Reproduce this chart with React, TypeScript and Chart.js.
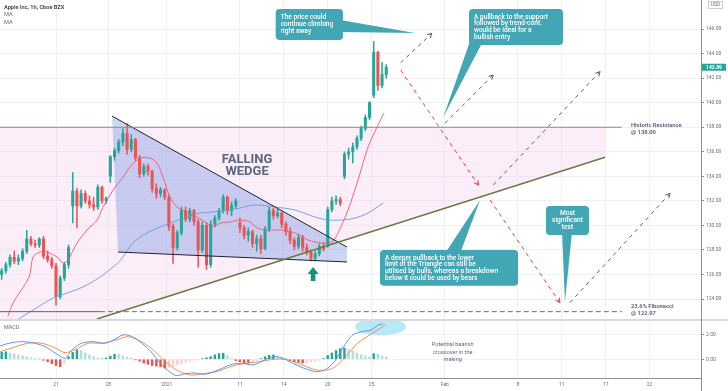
import React, { useEffect, useRef } from 'react';
import { Chart, registerables } from 'chart.js';

Chart.register(...registerables);

const W = 728, H = 391;
const MAIN_H = 320, MACD_H = 58, XAXIS_H = 13, YAXIS_W = 27;

// ---- time axis (x unit = one hourly bar) ----
const tickIndex = [0, 25, 53, 88, 109, 130, 151, 186, 221, 242, 263, 284];
const tickLabels = ['21', '28', '2021', '11', '14', '20', '25', 'Feb', '8', '11', '17', '22'];
const xMin = -26.8, xMax = 308.6;

// ---- price axis ----
const priceTicks = [124, 126, 128, 130, 132, 134, 136, 138, 140, 142, 144, 146];
const priceMin = 122.29, priceMax = 148.37;
const macdTicks = [0, 2];
const macdMin = -1.5, macdMax = 3.14;

// ---- candles (2-hour resolution) ----
const candleX = [-26, -24, -22, -20, -18, -16, -14, -12, -10, -8, -6, -4, -2, 0, 2, 4, 6, 8, 10, 12, 14, 16, 18, 20, 22, 24, 26, 28, 30, 32, 34, 36, 38, 40, 42, 44, 46, 48, 50, 52, 54, 56, 58, 60, 62, 64, 66, 68, 70, 72, 74, 76, 78, 80, 82, 84, 86, 88, 90, 92, 94, 96, 98, 100, 102, 104, 106, 108, 110, 112, 114, 116, 118, 120, 122, 124, 126, 128, 130, 132, 134, 136, 138, 140, 142, 144, 146, 148, 150, 152, 154, 156, 158];
const opens = [126.0, 126.3, 126.8, 127.4, 127.1, 127.3, 127.9, 128.9, 128.5, 128.4, 128.9, 127.5, 127.2, 126.7, 124.2, 125.7, 126.8, 131.6, 132.8, 131.6, 132.6, 132.0, 131.7, 131.5, 133.1, 132.0, 134.0, 135.6, 136.1, 136.8, 137.5, 136.2, 137.0, 135.5, 134.2, 134.8, 134.4, 133.0, 132.6, 132.9, 132.3, 129.9, 128.2, 129.4, 131.2, 130.5, 131.2, 130.3, 128.0, 130.0, 126.8, 130.1, 130.6, 131.2, 132.3, 131.2, 131.6, 130.2, 129.8, 129.2, 129.5, 128.5, 128.9, 128.1, 129.7, 131.2, 130.8, 131.0, 130.1, 129.5, 128.8, 128.3, 129.0, 128.2, 127.8, 127.3, 127.7, 128.3, 128.3, 131.3, 132.0, 132.1, 134.0, 135.8, 136.0, 136.4, 137.1, 137.9, 138.8, 140.6, 144.1, 141.4, 142.3];
const highs = [126.5, 127.0, 127.6, 127.9, 127.6, 128.1, 129.6, 129.1, 128.8, 129.0, 129.1, 127.9, 127.4, 126.9, 125.9, 127.0, 128.4, 134.3, 133.0, 132.9, 132.8, 132.4, 132.3, 133.3, 133.2, 132.3, 135.7, 136.3, 137.0, 137.9, 138.3, 137.4, 137.1, 135.7, 135.0, 135.0, 134.5, 133.4, 133.1, 133.0, 132.5, 130.1, 129.6, 131.5, 131.5, 131.4, 131.3, 130.5, 130.3, 130.2, 130.4, 130.8, 131.4, 132.5, 132.4, 131.9, 132.2, 130.6, 130.0, 129.8, 129.6, 129.2, 129.2, 129.9, 131.5, 131.4, 131.3, 131.1, 130.3, 129.8, 129.0, 129.3, 129.2, 128.5, 128.0, 127.9, 128.5, 128.6, 131.5, 132.3, 132.4, 132.3, 136.0, 136.3, 136.7, 137.3, 138.1, 139.0, 140.1, 145.0, 144.2, 143.3, 143.1];
const lows = [125.6, 126.1, 126.6, 126.9, 126.8, 127.1, 127.7, 128.3, 128.2, 128.2, 127.3, 127.0, 126.5, 123.5, 124.0, 125.5, 126.5, 130.2, 129.8, 131.4, 131.8, 131.4, 131.2, 131.3, 131.8, 131.8, 133.5, 135.3, 135.9, 136.5, 135.8, 136.0, 135.3, 133.9, 134.0, 134.1, 132.7, 132.2, 132.3, 132.1, 129.6, 126.9, 128.0, 129.2, 130.3, 130.3, 130.0, 126.6, 127.8, 126.4, 126.6, 129.9, 130.4, 131.0, 130.9, 130.8, 131.4, 129.4, 128.9, 128.7, 128.2, 127.9, 127.7, 128.0, 129.5, 130.5, 130.6, 129.8, 129.2, 128.5, 128.0, 128.1, 127.9, 127.6, 127.1, 127.1, 127.5, 127.9, 128.2, 131.1, 131.7, 131.6, 133.8, 135.4, 135.1, 136.2, 136.9, 137.7, 138.6, 140.4, 141.0, 141.2, 142.0];
const closes = [126.3, 126.8, 127.4, 127.1, 127.3, 127.9, 128.9, 128.5, 128.4, 128.9, 127.5, 127.2, 126.7, 124.2, 125.7, 126.8, 128.2, 132.8, 131.6, 132.6, 132.0, 131.7, 131.5, 133.1, 132.0, 132.2, 135.6, 136.1, 136.8, 137.5, 136.2, 137.0, 135.5, 134.2, 134.8, 134.4, 133.0, 132.6, 132.9, 132.3, 129.9, 128.2, 129.4, 131.2, 130.5, 131.2, 130.3, 128.0, 130.0, 126.8, 130.1, 130.6, 131.2, 132.3, 131.2, 131.6, 132.0, 129.8, 129.2, 129.5, 128.5, 128.9, 128.1, 129.7, 131.2, 130.8, 131.0, 130.1, 129.5, 128.8, 128.3, 129.0, 128.2, 127.8, 127.3, 127.7, 128.3, 128.1, 131.3, 132.0, 132.1, 131.8, 135.8, 136.0, 136.4, 137.1, 137.9, 138.8, 140.0, 144.1, 141.4, 142.3, 142.89];

// ---- moving averages ----
const maFastX = [-23, -20.6, -12.9, -11.0, -7.7, -4.3, 0.5, 3.3, 5.7, 10.0, 14.8, 19.6, 22.5, 27.3, 32.1, 35.4, 40.2, 45.0, 48.3, 51.2, 54.5, 57.9, 62.7, 67.5, 72.2, 75.1, 78.5, 83.3, 88.0, 92.8, 96.2, 101.4, 108.1, 114.4, 120.6, 127.3, 132.1, 134.9, 139.7, 144.5, 149.3, 153.6, 156.9];
const maFastY = [122.6, 123.67, 125.79, 127.42, 127.83, 127.83, 127.42, 126.93, 127.18, 128.56, 129.62, 130.44, 131.5, 132.88, 133.94, 134.76, 135.49, 135.49, 135.08, 133.94, 132.31, 131.5, 131.09, 130.68, 130.19, 129.87, 130.19, 130.28, 130.44, 130.28, 129.79, 129.62, 129.62, 129.38, 128.81, 128.56, 128.65, 129.38, 131.25, 133.7, 136.39, 138.02, 139.16];
const maSlowX = [-18.7, -11.0, -1.4, 5.3, 12.9, 21.1, 27.3, 30.6, 36.8, 43.5, 49.8, 56.0, 62.7, 68.9, 75.1, 81.8, 88.0, 95.2, 104.8, 114.4, 123.9, 130.1, 136.8, 143.1, 149.3, 156.5];
const maSlowY = [122.29, 123.1, 124.08, 124.49, 124.98, 125.79, 126.61, 127.1, 128.56, 129.38, 129.87, 130.28, 130.68, 131.01, 131.09, 131.25, 131.42, 131.66, 131.5, 131.25, 130.68, 130.44, 130.44, 130.6, 131.01, 131.82];

// ---- MACD ----
const macdX = [-26.8, -21.2, -15.7, -10.1, -4.6, 1.0, 4.3, 7.6, 12.1, 17.6, 23.2, 27.6, 32.1, 36.5, 41.0, 45.4, 49.9, 54.3, 57.6, 62.1, 66.5, 71.0, 75.4, 79.8, 84.3, 88.7, 94.3, 99.8, 104.3, 108.7, 113.2, 118.7, 124.3, 128.7, 133.2, 137.6, 142.0, 146.5, 150.9, 154.2, 156.5];
const macdY = [1.07, 1.33, 1.41, 1.28, 0.96, 0.35, 0.08, 0.75, 1.28, 1.41, 1.28, 1.55, 1.95, 1.81, 1.28, 0.61, -0.32, -1.0, -1.3, -1.15, -1.1, -1.2, -1.0, -0.7, -0.4, -0.32, -0.45, -0.05, 0.21, 0.08, -0.32, -0.72, -0.99, -0.85, -0.19, 1.01, 1.95, 2.21, 2.35, 2.75, 2.83];
const signalX = [-26.8, -20.1, -13.5, -6.8, -0.1, 4.3, 8.8, 15.4, 22.1, 28.8, 34.3, 39.9, 46.5, 53.2, 58.7, 64.3, 71.0, 77.6, 84.3, 90.9, 97.6, 104.3, 110.9, 117.6, 124.3, 129.8, 133.2, 138.7, 144.2, 150.9, 157.6];
const signalY = [0.61, 0.96, 1.28, 1.28, 0.88, 0.53, 0.75, 1.28, 1.28, 1.55, 1.81, 1.49, 0.75, -0.32, -0.95, -1.25, -1.15, -0.95, -0.55, -0.32, -0.19, 0.0, -0.05, -0.45, -0.85, -0.85, -0.64, 0.21, 1.28, 2.03, 2.75];
const histY = [0.55, 0.6, 0.5, 0.42, 0.35, 0.28, 0.2, 0.12, 0.06, 0.02, -0.08, -0.2, -0.35, -0.5, -0.6, -0.3, 0.2, 0.55, 0.75, 0.7, 0.5, 0.35, 0.22, 0.12, 0.08, 0.1, 0.25, 0.4, 0.38, 0.28, 0.18, 0.1, -0.05, -0.15, -0.3, -0.4, -0.5, -0.55, -0.6, -0.7, -0.65, -0.55, -0.45, -0.35, -0.25, -0.15, -0.08, -0.02, 0.05, 0.12, 0.2, 0.35, 0.45, 0.48, 0.3, 0.05, -0.1, -0.2, -0.28, -0.3, -0.22, -0.1, 0.05, 0.2, 0.32, 0.35, 0.25, 0.1, 0.02, -0.1, -0.2, -0.25, -0.3, -0.28, -0.22, -0.15, -0.08, 0.05, 0.3, 0.5, 0.7, 0.85, 0.9, 0.8, 0.65, 0.5, 0.38, 0.28, 0.2, 0.45, 0.4, 0.25, 0.18];

// ---- drawings (data coordinates) ----
const resistanceLevel = 138.0;
const fibLevel = 122.97;
const drawingEndX = 270.7;
const fibDashStartX = 21;
const triangleRightX = 262.7;
const trendX = [19.6, 262.7];
const trendY = [122.37, 135.55];
const wedgeUpperX = [26.8, 139.2];
const wedgeUpperY = [138.91, 128.24];
const wedgeLowerX = [29.7, 139.2];
const wedgeLowerY = [127.83, 127.02];
const bullStartX = [164.9, 186.1, 209.2, 245.9];
const bullStartY = [143.26, 138.32, 133.29, 123.7];
const bullEndX = [179.8, 209.2, 260.3, 293.8];
const bullEndY = [145.65, 142.26, 142.53, 132.61];
const bearStartX = [164.9, 207.7];
const bearStartY = [142.66, 132.07];
const bearEndX = [202.1, 241.1];
const bearEndY = [133.29, 123.7];
const upArrowX = 123, upArrowY = 126.6;

const calloutText = [
  ['The price could', 'continue climbing', 'right away'],
  ['A pullback to the support', 'followed by trend-cont.', 'would be ideal for a', 'bullish entry'],
  ['A deeper pullback to the lower', 'limit of the Triangle can still be', 'utilised by bulls, whereas a breakdown', 'below it could be used by bears'],
  ['Most', 'significant', 'test'],
];
const calloutLeft = [105.1, 197.6, 155.0, 234.4];
const calloutRight = [137.3, 242.6, 221.1, 255.0];
const calloutTop = [147.63, 147.63, 127.99, 131.58];
const calloutBottom = [145.11, 144.7, 125.08, 129.22];
const calloutTipX = [171.8, 185.3, 202.9, 243.5];
const calloutTipY = [145.68, 138.83, 132.07, 123.76];
const calloutBaseX = [[136, 136], [198.1, 204.3], [186.1, 193.3], [242.1, 246.9]];
const calloutBaseY = [[146.74, 145.76], [145.0, 145.0], [127.7, 127.7], [129.5, 129.5]];
const calloutAlign = ['left', 'left', 'left', 'center'];

const wedgeLabel = ['FALLING', 'WEDGE'];
const wedgeLabelX = 91.4;
const wedgeLabelY = [135.33, 134.37];
const levelLabelX = 275.1;
const macdNote = ['Potential bearish', 'crossover in the', 'making'];
const macdNoteX = 189.8;
const macdNoteY = [1.14, 0.56, 0.0];
const ellipseX = 155.3, ellipseY = 2.61;

// ---- styles ----
const GREEN = '#26a69a', RED = '#ef5350';
const GRID = '#eef1f6', AXIS = '#8d9099', TXT = '#6b6e78';
const TEAL = '#42a6b4';
const LABEL = '#5d6a80';
const FONT = 'Roboto';

function seg(xs: number[], ys: number[]) {
  return xs.map((v, i) => ({ x: v, y: ys[i] }));
}

function lineDs(xs: number[], ys: number[], color: string, width: number, dash: number[], order: number, axis = 'y', tension = 0) {
  return {
    type: 'line' as const,
    data: seg(xs, ys),
    borderColor: color,
    borderWidth: width,
    borderDash: dash,
    pointRadius: 0,
    fill: false,
    tension,
    order,
    yAxisID: axis,
  };
}

function arrowHead(ctx: CanvasRenderingContext2D, x0: number, y0: number, x1: number, y1: number, color: string) {
  const a = Math.atan2(y1 - y0, x1 - x0);
  const L = 5;
  ctx.save();
  ctx.strokeStyle = color;
  ctx.lineWidth = 1;
  ctx.setLineDash([]);
  ctx.beginPath();
  ctx.moveTo(x1 - L * Math.cos(a - 0.5), y1 - L * Math.sin(a - 0.5));
  ctx.lineTo(x1, y1);
  ctx.lineTo(x1 - L * Math.cos(a + 0.5), y1 - L * Math.sin(a + 0.5));
  ctx.stroke();
  ctx.restore();
}

function txt(ctx: CanvasRenderingContext2D, s: string, x: number, y: number, font: string, color: string, align: CanvasTextAlign = 'left') {
  ctx.font = font;
  ctx.fillStyle = color;
  ctx.textAlign = align;
  ctx.textBaseline = 'middle';
  ctx.fillText(s, x, y);
}

const overlay = {
  id: 'overlay',
  beforeDatasetsDraw(chart: any) {
    const { ctx, chartArea } = chart;
    const x = chart.scales.x, y = chart.scales.y, y2 = chart.scales.y2;
    const X = (v: number) => x.getPixelForValue(v);
    const Y = (v: number) => y.getPixelForValue(v);
    ctx.save();
    ctx.beginPath();
    ctx.rect(chartArea.left, y.top, chartArea.right - chartArea.left, y.bottom - y.top);
    ctx.clip();
    // ascending triangle fill
    ctx.fillStyle = 'rgba(242, 200, 235, 0.3)';
    ctx.beginPath();
    ctx.moveTo(X(xMin), Y(resistanceLevel));
    ctx.lineTo(X(triangleRightX), Y(resistanceLevel));
    ctx.lineTo(X(trendX[1]), Y(trendY[1]));
    ctx.lineTo(X(trendX[0]), Y(trendY[0]));
    ctx.lineTo(X(xMin), Y(trendY[0]));
    ctx.closePath();
    ctx.fill();
    // wedge fill
    ctx.fillStyle = 'rgba(120, 150, 225, 0.39)';
    ctx.beginPath();
    ctx.moveTo(X(wedgeUpperX[0]), Y(wedgeUpperY[0]));
    ctx.lineTo(X(wedgeUpperX[1]), Y(wedgeUpperY[1]));
    ctx.lineTo(X(wedgeLowerX[1]), Y(wedgeLowerY[1]));
    ctx.lineTo(X(wedgeLowerX[0]), Y(wedgeLowerY[0]));
    ctx.closePath();
    ctx.fill();
    ctx.restore();
    // ellipse in MACD pane
    ctx.save();
    ctx.beginPath();
    ctx.rect(chartArea.left, y2.top, chartArea.right - chartArea.left, y2.bottom - y2.top);
    ctx.clip();
    ctx.fillStyle = 'rgba(110, 215, 235, 0.5)';
    ctx.beginPath();
    ctx.ellipse(X(ellipseX), y2.getPixelForValue(ellipseY), 25.5, 8.5, 0, 0, Math.PI * 2);
    ctx.fill();
    ctx.restore();
  },
  afterDatasetsDraw(chart: any) {
    const { ctx } = chart;
    const x = chart.scales.x, y = chart.scales.y, y2 = chart.scales.y2;
    const X = (v: number) => x.getPixelForValue(v);
    const Y = (v: number) => y.getPixelForValue(v);
    ctx.save();
    // arrow heads
    bullEndX.forEach((ex, i) => arrowHead(ctx, X(bullStartX[i]), Y(bullStartY[i]), X(ex), Y(bullEndY[i]), '#5f6a55'));
    bearEndX.forEach((ex, i) => arrowHead(ctx, X(bearStartX[i]), Y(bearStartY[i]), X(ex), Y(bearEndY[i]), '#f0364a'));
    // up arrow
    const ax = X(upArrowX), ay = Y(upArrowY);
    ctx.fillStyle = '#149479';
    ctx.beginPath();
    ctx.moveTo(ax, ay);
    ctx.lineTo(ax + 5.5, ay + 7);
    ctx.lineTo(ax + 2.3, ay + 7);
    ctx.lineTo(ax + 2.3, ay + 14);
    ctx.lineTo(ax - 2.3, ay + 14);
    ctx.lineTo(ax - 2.3, ay + 7);
    ctx.lineTo(ax - 5.5, ay + 7);
    ctx.closePath();
    ctx.fill();
    // wedge label
    wedgeLabel.forEach((s, i) => txt(ctx, s, X(wedgeLabelX), Y(wedgeLabelY[i]), `bold 13px ${FONT}`, '#5b6780', 'center'));
    // level labels
    const ry = Y(resistanceLevel), fy = Y(fibLevel);
    txt(ctx, 'Historic Resistance', X(levelLabelX), ry - 1.3, `bold 5.8px ${FONT}`, LABEL);
    txt(ctx, '@ 138.00', X(levelLabelX), ry + 5.4, `bold 5.8px ${FONT}`, LABEL);
    txt(ctx, '23.6% Fibonacci', X(levelLabelX), fy - 5.6, `bold 5.8px ${FONT}`, LABEL);
    txt(ctx, '@ 122.97', X(levelLabelX), fy + 1.4, `bold 5.8px ${FONT}`, LABEL);
    // callouts
    calloutText.forEach((lines, i) => {
      const l = X(calloutLeft[i]), r = X(calloutRight[i]), t = Y(calloutTop[i]), b = Y(calloutBottom[i]);
      ctx.fillStyle = TEAL;
      ctx.beginPath();
      ctx.moveTo(X(calloutBaseX[i][0]), Y(calloutBaseY[i][0]));
      ctx.lineTo(X(calloutTipX[i]), Y(calloutTipY[i]));
      ctx.lineTo(X(calloutBaseX[i][1]), Y(calloutBaseY[i][1]));
      ctx.closePath();
      ctx.fill();
      ctx.beginPath();
      (ctx as any).roundRect(l, t, r - l, b - t, 4);
      ctx.fill();
      const cy = (t + b) / 2;
      const lh = 6.7;
      lines.forEach((s, j) => {
        const ly = cy + (j - (lines.length - 1) / 2) * lh;
        if (calloutAlign[i] === 'center') txt(ctx, s, (l + r) / 2, ly, `500 6.6px ${FONT}`, '#ffffff', 'center');
        else txt(ctx, s, l + 5, ly, `500 6.6px ${FONT}`, '#ffffff');
      });
    });
    // macd note
    macdNote.forEach((s, i) => txt(ctx, s, X(macdNoteX), y2.getPixelForValue(macdNoteY[i]), `5.6px ${FONT}`, LABEL, 'center'));
    ctx.restore();
  },
  afterDraw(chart: any) {
    const { ctx, chartArea } = chart;
    const y = chart.scales.y;
    ctx.save();
    // pane separator
    ctx.fillStyle = '#d6d9df';
    ctx.fillRect(0, y.bottom - 1, W, 2);
    // right axis line full height
    ctx.fillStyle = AXIS;
    ctx.fillRect(chartArea.right, 0, 1, H);
    // titles
    txt(ctx, 'Apple Inc, 1h, Cboe BZX', 4, 7.3, `bold 5.6px ${FONT}`, '#4a4d57');
    txt(ctx, 'MA', 4, 15, `5.6px ${FONT}`, '#6b6e78');
    txt(ctx, 'MA', 4, 23, `5.6px ${FONT}`, '#6b6e78');
    txt(ctx, 'MACD', 4, y.bottom + 7.5, `5.4px ${FONT}`, '#6b6e78');
    // USD label
    ctx.strokeStyle = '#c8cbd2';
    ctx.lineWidth = 1;
    ctx.strokeRect(708.5, 1.5, 14, 7);
    txt(ctx, 'USD', 715.5, 5.2, `4.8px ${FONT}`, TXT, 'center');
    // last price label
    const last = closes[closes.length - 1];
    const ly = y.getPixelForValue(last);
    ctx.fillStyle = GREEN;
    ctx.fillRect(chartArea.right + 1, ly - 3.5, 24, 7);
    txt(ctx, last.toFixed(2), chartArea.right + 13, ly + 0.2, `bold 5px ${FONT}`, '#ffffff', 'center');
    ctx.restore();
  },
};

export default function App() {
  const ref = useRef<HTMLCanvasElement>(null);
  useEffect(() => {
    const canvas = ref.current!;
    const candleColors = opens.map((o, i) => (closes[i] >= o ? GREEN : RED));
    const histColors = histY.map((v, i) => {
      const prev = i > 0 ? histY[i - 1] : v;
      if (v >= 0) return v >= prev ? '#26a69a' : '#b2dfdb';
      return v <= prev ? '#ef5350' : '#ffcdd2';
    });

    const datasets: any[] = [
      {
        type: 'bar',
        data: candleX.map((v, i) => ({ x: v, y: [lows[i], highs[i]] })),
        backgroundColor: candleColors,
        barThickness: 0.9,
        grouped: false,
        order: 5,
        yAxisID: 'y',
      },
      {
        type: 'bar',
        data: candleX.map((v, i) => ({ x: v, y: [opens[i], closes[i]] })),
        backgroundColor: candleColors,
        barThickness: 2.4,
        minBarLength: 1,
        grouped: false,
        order: 4,
        yAxisID: 'y',
      },
      lineDs(maFastX, maFastY, '#ee5a64', 0.9, [], 2, 'y', 0.3),
      lineDs(maSlowX, maSlowY, '#6a9ae0', 0.9, [], 2, 'y', 0.3),
      lineDs([xMin, drawingEndX], [resistanceLevel, resistanceLevel], '#7a9a55', 1.2, [], 0),
      lineDs([xMin, fibDashStartX], [fibLevel, fibLevel], '#5d6b48', 1, [], 0),
      lineDs([fibDashStartX, drawingEndX], [fibLevel, fibLevel], '#6d7078', 1, [5, 3], 0),
      lineDs(trendX, trendY, '#6b7a42', 1.5, [], 0),
      lineDs(wedgeUpperX, wedgeUpperY, '#1e222d', 1, [], 0),
      lineDs(wedgeLowerX, wedgeLowerY, '#1e222d', 1, [], 0),
      ...bullStartX.map((sx, i) => lineDs([sx, bullEndX[i]], [bullStartY[i], bullEndY[i]], '#5f6a55', 1, [4, 4], 0)),
      ...bearStartX.map((sx, i) => lineDs([sx, bearEndX[i]], [bearStartY[i], bearEndY[i]], '#f0364a', 1, [4, 4], 0)),
      {
        type: 'bar',
        data: candleX.map((v, i) => ({ x: v, y: histY[i] })),
        backgroundColor: histColors,
        barThickness: 1.8,
        grouped: false,
        order: 4,
        yAxisID: 'y2',
      },
      lineDs(macdX, macdY, '#4a8cf0', 0.9, [], 1, 'y2', 0.3),
      lineDs(signalX, signalY, '#f5843a', 0.9, [], 1, 'y2', 0.3),
    ];

    const tickFont = { family: FONT, size: 5 };
    const chart = new Chart(canvas, {
      type: 'bar',
      data: { datasets },
      options: {
        responsive: false,
        animation: false,
        devicePixelRatio: 1,
        events: [],
        layout: { padding: 0 },
        plugins: { legend: { display: false }, tooltip: { enabled: false } },
        scales: {
          x: {
            type: 'linear',
            min: xMin,
            max: xMax,
            offset: false,
            grid: { color: GRID, offset: false, drawTicks: false, lineWidth: 1 },
            border: { color: AXIS },
            ticks: {
              font: tickFont,
              color: TXT,
              padding: 4,
              maxRotation: 0,
              autoSkip: false,
              callback: (_v: any, i: number) => tickLabels[i],
            },
            afterBuildTicks: (s: any) => { s.ticks = tickIndex.map((v) => ({ value: v })); },
            afterFit: (s: any) => { s.height = XAXIS_H; s.paddingLeft = 0; s.paddingRight = 0; },
          },
          y: {
            type: 'linear',
            position: 'right',
            stack: 'panes',
            stackWeight: MAIN_H,
            min: priceMin,
            max: priceMax,
            grid: { color: GRID, tickLength: 3, tickColor: AXIS },
            border: { color: AXIS },
            ticks: { font: tickFont, color: TXT, padding: 2, callback: (v: any) => Number(v).toFixed(2) },
            afterBuildTicks: (s: any) => { s.ticks = priceTicks.map((v) => ({ value: v })); },
            afterFit: (s: any) => { s.width = YAXIS_W; s.paddingTop = 0; s.paddingBottom = 0; },
          },
          y2: {
            type: 'linear',
            position: 'right',
            stack: 'panes',
            stackWeight: MACD_H,
            min: macdMin,
            max: macdMax,
            grid: { color: GRID, tickLength: 3, tickColor: AXIS },
            border: { color: AXIS },
            ticks: { font: tickFont, color: TXT, padding: 2, callback: (v: any) => Number(v).toFixed(2) },
            afterBuildTicks: (s: any) => { s.ticks = macdTicks.map((v) => ({ value: v })); },
            afterFit: (s: any) => { s.width = YAXIS_W; s.paddingTop = 0; s.paddingBottom = 0; },
          },
        },
      } as any,
      plugins: [overlay],
    });
    return () => chart.destroy();
  }, []);

  return (
    <div style={{ position: 'fixed', left: 0, top: 0, width: W, height: H, background: '#ffffff' }}>
      <canvas ref={ref} width={W} height={H} style={{ display: 'block', width: W, height: H }} />
    </div>
  );
}
